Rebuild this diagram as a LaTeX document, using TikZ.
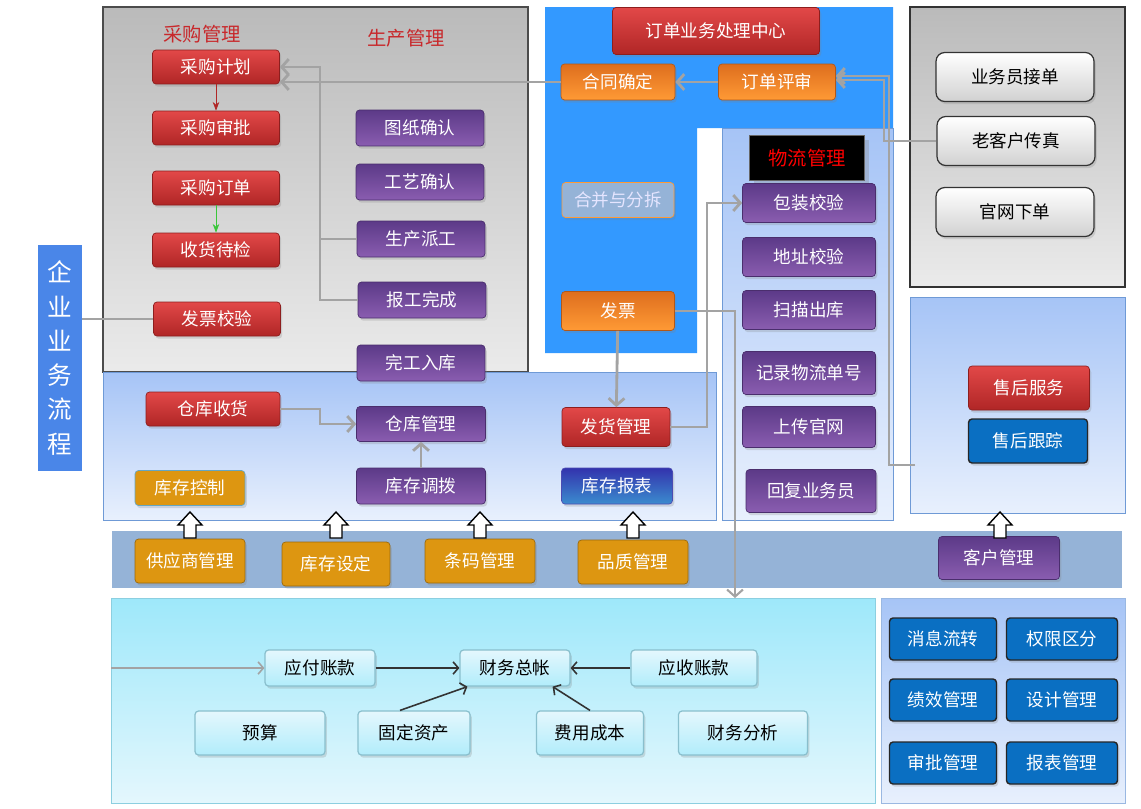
\documentclass[tikz,border=0pt]{standalone}
\usepackage{fontspec}
\setmainfont{Noto Sans CJK SC}
\usetikzlibrary{positioning,calc,arrows.meta,shadows}

\definecolor{redtop}{HTML}{E24848}
\definecolor{redbot}{HTML}{B02626}
\definecolor{purtop}{HTML}{5C3A88}
\definecolor{purbot}{HTML}{8A5DB0}
\definecolor{orgtop}{HTML}{DE6E1E}
\definecolor{orgbot}{HTML}{FF9A35}
\definecolor{gold}{HTML}{DD9611}
\definecolor{btnblue}{HTML}{0A6FC2}
\definecolor{panelblue}{HTML}{3399FF}
\definecolor{bandblue}{HTML}{95B3D7}
\definecolor{linegray}{HTML}{A3A3A3}
\definecolor{lbltop}{HTML}{4A86E8}
\definecolor{titlered}{HTML}{C8282B}
\definecolor{skytop}{HTML}{A6C4F6}
\definecolor{skybot}{HTML}{E8F0FD}
\definecolor{skyline}{HTML}{6F9AD6}
\definecolor{aquatop}{HTML}{9EE8FA}
\definecolor{aquabot}{HTML}{E4F7FD}
\definecolor{aqualine}{HTML}{8CCFE0}

\tikzset{
  btn/.style={rounded corners=2pt, text=white, inner sep=1pt,
    font=\fontsize{10}{12}\selectfont,
    drop shadow={opacity=0.25, shadow xshift=1pt, shadow yshift=-1.5pt}},
  redbtn/.style={btn, top color=redtop, bottom color=redbot, draw=redbot!80!black,
    minimum width=2.54cm, minimum height=0.68cm},
  purbtn/.style={btn, top color=purtop, bottom color=purbot, draw=purtop!80!black,
    minimum width=2.56cm, minimum height=0.72cm},
  orgbtn/.style={btn, top color=orgtop, bottom color=orgbot, draw=orgtop!80!black,
    minimum width=2.28cm, minimum height=0.72cm},
  goldbtn/.style={btn, fill=gold, draw=gold!70!black, minimum width=2.2cm, minimum height=0.88cm},
  bluebtn/.style={btn, fill=btnblue, draw=black!85, line width=0.8pt,
    minimum width=2.14cm, minimum height=0.84cm},
  graybtn/.style={btn, rounded corners=5pt, text=black, top color=white, bottom color=black!18,
    draw=black!80, line width=0.7pt, minimum width=3.16cm, minimum height=0.98cm},
  finbox/.style={btn, text=black, top color=aquabot, bottom color=aquatop!80!white,
    draw=aqualine!80!gray, line width=0.7pt, minimum width=2.2cm, minimum height=0.72cm},
  flow/.style={draw=linegray, line width=1.6pt, -{Straight Barb[length=4pt,width=9pt]}},
  link/.style={draw=linegray, line width=1.6pt},
  finarrow/.style={draw=black!80, line width=0.9pt, -{Straight Barb[length=3pt,width=7pt]}},
  pics/uparr/.style={code={
    \draw[black, line width=0.8pt, fill=white] (-6,0) -- (-6,-13) -- (-12,-13) -- (0,-26)
      -- (12,-13) -- (6,-13) -- (6,0) -- cycle;}}
}

\begin{document}
\begin{tikzpicture}[x=0.02cm, y=-0.02cm]
  \useasboundingbox (0,0) rectangle (1141,808);

  % panels
  \shade[top color=black!27, bottom color=black!8] (103,7) rectangle (528,372);
  \draw[black!70, line width=0.8pt] (103,7) rectangle (528,372);
  \fill[panelblue] (545,7) -- (893,7) -- (893,128) -- (697,128) -- (697,353) -- (545,353) -- cycle;
  \shade[top color=skytop, bottom color=skybot] (722,128) rectangle (893,520);
  \draw[skyline] (722,128) rectangle (893,520);
  \shade[top color=black!27, bottom color=black!8] (910,7) rectangle (1125,287);
  \draw[black!80, line width=0.8pt] (910,7) rectangle (1125,287);
  \shade[top color=skytop, bottom color=skybot] (910,297) rectangle (1125,513);
  \draw[skyline] (910,297) rectangle (1125,513);
  \shade[top color=skytop, bottom color=skybot] (103,372) rectangle (716,520);
  \draw[skyline] (103,372) rectangle (716,520);
  \fill[bandblue] (112,531) rectangle (1122,588);
  \shade[top color=aquatop, bottom color=aquabot] (111,598) rectangle (875,803);
  \draw[aqualine] (111,598) rectangle (875,803);
  \shade[top color=skytop, bottom color=skybot] (881,598) rectangle (1125,803);
  \draw[skyline!70!white] (881,598) rectangle (1125,803);

  \node[fill=lbltop, text=white, minimum width=0.88cm, minimum height=4.54cm, inner sep=0pt,
    align=center, font=\fontsize{14}{19.5}\selectfont] (qylc) at (60,358)
    {企\\业\\业\\务\\流\\程};

  % purchase / production
  \node[text=titlered, font=\fontsize{11}{13}\selectfont] (cggltitle) at (202,34) {采购管理};
  \node[text=titlered, font=\fontsize{11}{13}\selectfont] (scgltitle) at (406,38) {生产管理};
  \node[redbtn] (cgjh) at (216,67) {采购计划};
  \node[redbtn] (cgsp) at (216,128) {采购审批};
  \node[redbtn] (cgdd) at (216,188) {采购订单};
  \node[redbtn] (shdj) at (216,250) {收货待检};
  \node[redbtn] (fpjy) at (217,319) {发票校验};
  \node[purbtn] (tzqr) at (420,128) {图纸确认};
  \node[purbtn] (gyqr) at (420,182) {工艺确认};
  \node[purbtn] (scpg) at (421,239) {生产派工};
  \node[purbtn] (bgwc) at (422,300) {报工完成};
  \node[purbtn] (wgrk) at (421,363) {完工入库};

  % order center
  \node[redbtn, minimum width=4.14cm, minimum height=0.94cm] (ddzx) at (716,31) {订单业务处理中心};
  \node[orgbtn] (htqd) at (618,82) {合同确定};
  \node[orgbtn, minimum width=2.34cm] (ddps) at (777,82) {订单评审};
  \node[btn, fill=bandblue, draw=orgbot, text=white!90!blue, minimum width=2.24cm,
    minimum height=0.7cm] (hbyfc) at (618,200) {合并与分拆};
  \node[orgbtn, minimum width=2.26cm, minimum height=0.78cm] (fp) at (618,311) {发票};

  % logistics
  \node[fill=black, draw=black!60, text=red, minimum width=2.3cm, minimum height=0.9cm,
    font=\fontsize{11}{13}\selectfont, drop shadow={opacity=0.3}] (wlgl) at (807,158) {物流管理};
  \node[purbtn, minimum width=2.66cm, minimum height=0.78cm] (bzjy) at (809,203) {包装校验};
  \node[purbtn, minimum width=2.66cm, minimum height=0.78cm] (dzjy) at (809,257) {地址校验};
  \node[purbtn, minimum width=2.66cm, minimum height=0.78cm] (smck) at (809,310) {扫描出库};
  \node[purbtn, minimum width=2.66cm, minimum height=0.86cm] (jlwl) at (809,373) {记录物流单号};
  \node[purbtn, minimum width=2.66cm, minimum height=0.82cm] (scgw) at (809,427) {上传官网};
  \node[purbtn, minimum width=2.6cm, minimum height=0.86cm] (hfywy) at (811,491) {回复业务员};

  % order sources
  \node[graybtn] (ywyjd) at (1015,77) {业务员接单};
  \node[graybtn] (lkhcz) at (1016,141) {老客户传真};
  \node[graybtn] (gwxd) at (1015,212) {官网下单};

  % after sales
  \node[redbtn, minimum width=2.42cm, minimum height=0.88cm] (shfw) at (1029,388) {售后服务};
  \node[bluebtn, minimum width=2.38cm, minimum height=0.88cm] (shgz) at (1028,441) {售后跟踪};

  % warehouse
  \node[redbtn, minimum width=2.68cm] (ckshd) at (213,409) {仓库收货};
  \node[purbtn, minimum width=2.58cm, minimum height=0.7cm] (ckgl) at (421,424) {仓库管理};
  \node[purbtn, minimum width=2.58cm] (kcdb) at (421,486) {库存调拨};
  \node[goldbtn, minimum height=0.7cm, draw=cyan!50!gray] (kckz) at (190,488) {库存控制};
  \node[btn, top color=blue!60!black!80, bottom color=btnblue!80!white, draw=blue!40!gray,
    minimum width=2.22cm, minimum height=0.72cm] (kcbb) at (617,486) {库存报表};
  \node[redbtn, minimum width=2.16cm, minimum height=0.78cm] (fhgl) at (616,427) {发货管理};

  % base settings
  \node[goldbtn] (gysgl) at (190,561) {供应商管理};
  \node[goldbtn, minimum width=2.16cm] (kcsd) at (336,564) {库存设定};
  \node[goldbtn] (tmgl) at (480,561) {条码管理};
  \node[goldbtn] (pzgl) at (633,562) {品质管理};
  \node[purbtn, minimum width=2.42cm, minimum height=0.86cm] (khgl) at (999,558) {客户管理};
  \foreach \x in {190,336,480,633,1000}
    \pic at (\x,538) {uparr};

  % finance
  \node[finbox] (yfzk) at (320,668) {应付账款};
  \node[finbox] (cwzz) at (515,668) {财务总帐};
  \node[finbox, minimum width=2.52cm] (yszk) at (694,668) {应收账款};
  \node[finbox, minimum width=2.6cm, minimum height=0.88cm] (ys) at (260,733) {预算};
  \node[finbox, minimum width=2.24cm, minimum height=0.88cm] (gdzc) at (414,733) {固定资产};
  \node[finbox, minimum width=2.14cm, minimum height=0.88cm] (fycb) at (590,733) {费用成本};
  \node[finbox, minimum width=2.58cm, minimum height=0.88cm] (cwfx) at (743,733) {财务分析};

  % system
  \node[bluebtn] (xxlz) at (943,639) {消息流转};
  \node[bluebtn, minimum width=2.22cm] (qxqf) at (1062,639) {权限区分};
  \node[bluebtn] (jxgl) at (943,700) {绩效管理};
  \node[bluebtn, minimum width=2.22cm] (sjgl) at (1062,700) {设计管理};
  \node[bluebtn] (spgl) at (943,763) {审批管理};
  \node[bluebtn, minimum width=2.22cm] (bbgl) at (1062,763) {报表管理};

  % connectors
  \coordinate (finin) at (111,668);
  \coordinate (fpdown) at (735,598);
  \coordinate (shin) at (915,465);
  \draw[-{Stealth[length=5pt]}, redbot, thin] (cgjh) -- (cgsp);
  \draw[-{Stealth[length=5pt]}, green!55!gray, thin] (cgdd) -- (shdj);
  \draw[flow] (scpg.west) -- (320,239) |- (cgjh.east);
  \draw[link] (bgwc.west) -- (320,300) -- (320,239);
  \draw[flow] (htqd.west) -- (htqd.west -| cgjh.east);
  \draw[flow] (ddps) -- (htqd);
  \draw[flow] (lkhcz.west) -- (884,141) |- ($(ddps.east)+(0,-2)$);
  \draw[flow] (shin) -- (889,465) |- ($(ddps.east)+(0,-6)$);
  \draw[link, line width=1.2pt] (qylc.east |- fpjy.west) -- (fpjy.west);
  \draw[flow] (fp) -- (fhgl);
  \draw[flow] (fhgl.east) -- (707,427) |- (bzjy.west);
  \draw[flow, line width=1.2pt] (fp.east) -- (735,311) -- (fpdown);
  \draw[flow] (ckshd.east) -- (320,409) |- (ckgl.west);
  \draw[flow] (kcdb) -- (ckgl);
  \draw[finarrow, draw=linegray] (finin) -- (yfzk.west);
  \draw[finarrow] (yfzk) -- (cwzz);
  \draw[finarrow] (yszk) -- (cwzz);
  \draw[finarrow] (gdzc.north) ++(-14,0) -- ($(cwzz.south west)+(8,0)$);
  \draw[finarrow] (fycb.north) ++(0,0) -- ($(cwzz.south east)+(-18,0)$);
\end{tikzpicture}
\end{document}
